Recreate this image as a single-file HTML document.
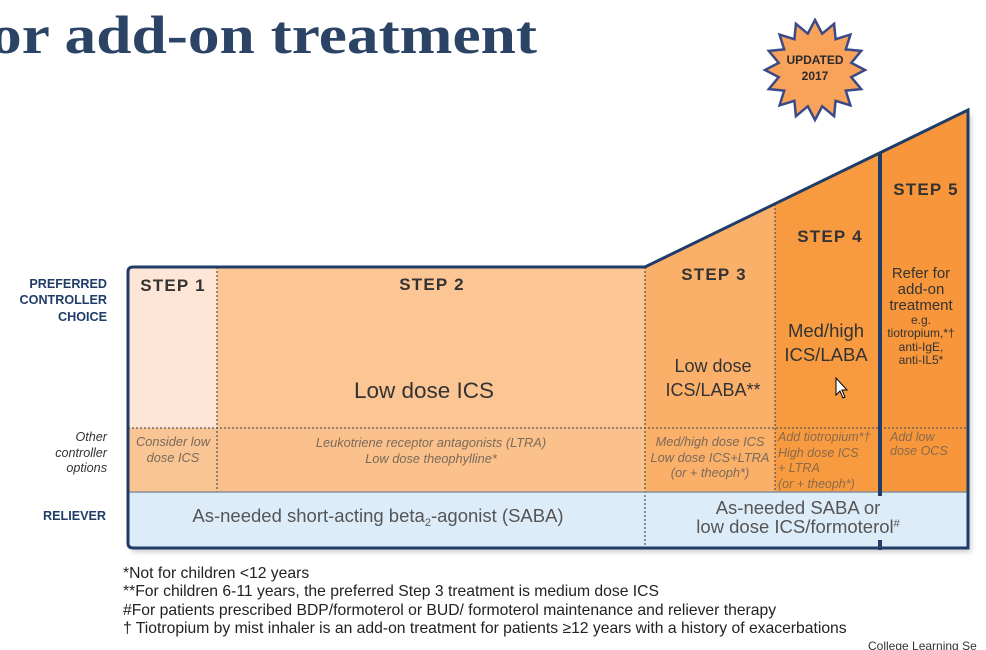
<!DOCTYPE html>
<html><head><meta charset="utf-8"><style>
html,body{margin:0;padding:0;background:#fff;}
svg{display:block;font-family:"Liberation Sans",sans-serif;}
</style></head><body>
<svg width="986" height="650" viewBox="0 0 986 650">
<text x="-10" y="53" font-family="Liberation Serif,serif" font-weight="bold" font-size="54" fill="#2b4466" textLength="547" lengthAdjust="spacingAndGlyphs">or add-on treatment</text>
<g>
<polygon id="star" fill="#f9a25a" stroke="#3b4a86" stroke-width="2.5"/>
<text x="815" y="64" text-anchor="middle" font-weight="bold" font-size="12" fill="#2b2b2b">UPDATED</text>
<text x="815" y="80" text-anchor="middle" font-weight="bold" font-size="12" fill="#2b2b2b">2017</text>
</g>
<defs><filter id="sh" x="-5%" y="-5%" width="110%" height="115%"><feDropShadow dx="3" dy="4" stdDeviation="3" flood-color="#999" flood-opacity="0.5"/></filter></defs>
<g>
<path d="M133,267 L645,267 L968,110 L968,548 L133,548 Q128,548 128,543 L128,272 Q128,267 133,267 Z" fill="#fff" filter="url(#sh)"/>
<rect x="128" y="267" width="89" height="161" fill="#fde6d6"/>
<rect x="128" y="428" width="89" height="64" fill="#f9c594"/>
<rect x="217" y="267" width="428" height="161" fill="#fcc594"/>
<rect x="217" y="428" width="428" height="64" fill="#fbc18c"/>
<polygon points="645,267 775,204 775,492 645,492" fill="#fbb06a"/>
<polygon points="775,204 880,153 880,492 775,492" fill="#f89a40"/>
<polygon points="880,153 968,110 968,492 880,492" fill="#f7963a"/>
<rect x="128" y="492" width="840" height="56" fill="#ddecf9"/>
<g stroke="#5a5a5a" stroke-width="1.3" stroke-dasharray="2,2" fill="none">
<line x1="128" y1="428" x2="968" y2="428"/>
<line x1="217" y1="267" x2="217" y2="492"/>
<line x1="645" y1="267" x2="645" y2="548"/>
<line x1="775" y1="204" x2="775" y2="492"/>
</g>
<line x1="128" y1="492" x2="968" y2="492" stroke="#8a8f99" stroke-width="1.5"/>
<path d="M133,267 L645,267 L968,110 L968,548 L133,548 Q128,548 128,543 L128,272 Q128,267 133,267 Z" fill="none" stroke="#1f3d68" stroke-width="3"/>
<polyline points="880,153 880,496" fill="none" stroke="#1f3d68" stroke-width="4"/>
<line x1="880" y1="540" x2="880" y2="550" stroke="#1f3d68" stroke-width="4"/>
</g>
<g font-size="12.6" font-weight="bold" fill="#1f3d68" text-anchor="end">
<text x="107" y="288">PREFERRED</text><text x="107" y="304">CONTROLLER</text><text x="107" y="321">CHOICE</text>
<text x="106" y="520">RELIEVER</text>
</g>
<g font-size="12.6" font-style="italic" fill="#333" text-anchor="end">
<text x="107" y="441">Other</text><text x="107" y="457">controller</text><text x="107" y="472">options</text>
</g>
<g font-weight="bold" font-size="17" letter-spacing="1.2" fill="#333" text-anchor="middle">
<text x="173" y="291">STEP 1</text><text x="432" y="290">STEP 2</text><text x="714" y="280">STEP 3</text><text x="830" y="242">STEP 4</text><text x="926" y="195">STEP 5</text>
</g>
<g fill="#333" text-anchor="middle">
<text x="424" y="398" font-size="22.5">Low dose ICS</text>
<text x="713" y="372" font-size="18">Low dose</text><text x="713" y="396" font-size="18">ICS/LABA**</text>
<text x="826" y="337" font-size="18.5">Med/high</text><text x="826" y="361" font-size="18.5">ICS/LABA</text>
<text x="921" y="278" font-size="15">Refer for</text><text x="921" y="294" font-size="15">add-on</text><text x="921" y="310" font-size="15">treatment</text>
<text x="921" y="324" font-size="12">e.g.</text><text x="921" y="337" font-size="12">tiotropium,*†</text><text x="921" y="351" font-size="12">anti-IgE,</text><text x="921" y="364" font-size="12">anti-IL5*</text>
</g>
<g font-size="12.8" font-style="italic" fill="#7a6a5a" text-anchor="middle">
<text x="173" y="446">Consider low</text><text x="173" y="462">dose ICS</text>
<text x="431" y="447">Leukotriene receptor antagonists (LTRA)</text><text x="431" y="463">Low dose theophylline*</text>
<text x="710" y="446">Med/high dose ICS</text><text x="710" y="462">Low dose ICS+LTRA</text><text x="710" y="477">(or + theoph*)</text>
</g>
<g font-size="12.5" font-style="italic" fill="#8a6a4a">
<text x="778" y="441">Add tiotropium*†</text><text x="778" y="457">High dose ICS</text><text x="778" y="472">+ LTRA</text><text x="778" y="488">(or + theoph*)</text>
<text x="890" y="441">Add low</text><text x="890" y="455">dose OCS</text>
</g>
<g font-size="18.5" fill="#555" text-anchor="middle">
<text x="378" y="522">As-needed short-acting beta<tspan font-size="11" dy="4">2</tspan><tspan dy="-4">-agonist (SABA)</tspan></text>
<text x="798" y="514">As-needed SABA or</text>
<text x="798" y="533">low dose ICS/formoterol<tspan font-size="11" dy="-6">#</tspan></text>
</g>
<g font-size="15.7" fill="#222">
<text x="123" y="578">*Not for children &lt;12 years</text>
<text x="123" y="596">**For children 6-11 years, the preferred Step 3 treatment is medium dose ICS</text>
<text x="123" y="615">#For patients prescribed BDP/formoterol or BUD/ formoterol maintenance and reliever therapy</text>
<text x="123" y="633">† Tiotropium by mist inhaler is an add-on treatment for patients ≥12 years with a history of exacerbations</text>
</g>
<text x="868" y="650" font-size="12" fill="#333">College Learning Se</text>
<g><path d="M836,378 L836,395 L840,391 L843,398 L845,397 L842,390 L847,390 Z" fill="#fff" stroke="#000" stroke-width="1"/></g>
</svg>
<script>
var cx=815,cy=70,n=16,ro=50,ri=37,pts=[];
for(var i=0;i<2*n;i++){var r=i%2?ri:ro,a=-Math.PI/2+i*Math.PI/n;pts.push((cx+r*Math.cos(a)).toFixed(1)+','+(cy+r*Math.sin(a)).toFixed(1));}
document.getElementById('star').setAttribute('points',pts.join(' '));
</script>
</body></html>
